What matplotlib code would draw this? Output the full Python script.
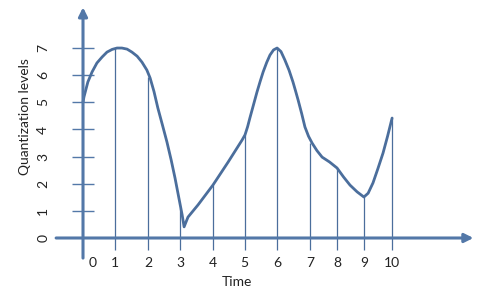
import numpy as np
import matplotlib
matplotlib.use("Agg")
import matplotlib.pyplot as plt

# sample times and where they sit along the time axis
time_labels = ["0", "1", "2", "3", "4", "5", "6", "7", "8", "9", "10"]
time_pos = [0, 0.99, 2.01, 2.99, 4.0, 4.99, 6.0, 7.0, 7.84, 8.67, 9.54]
sample_levels = [5.0, 7.0, 5.95, 1.1, 1.95, 3.8, 7.0, 3.5, 2.55, 1.5, 4.42]

level_labels = ["0", "1", "2", "3", "4", "5", "6", "7"]

# analog signal
curve_t = [0, 0.03, 0.15, 0.28, 0.43, 0.59, 0.74, 0.90, 1.05, 1.20,
           1.36, 1.51, 1.67, 1.82, 1.97, 2.07, 2.19, 2.31, 2.45, 2.59,
           2.72, 2.84, 2.95, 3.06, 3.12, 3.24, 3.55, 4.01, 4.48, 4.91,
           5.0, 5.08, 5.15, 5.26, 5.37, 5.47, 5.56, 5.67, 5.77, 5.88,
           5.99, 6.11, 6.23, 6.36, 6.48, 6.56, 6.64, 6.75, 6.85, 6.96,
           7.07, 7.22, 7.38, 7.61, 7.84, 8.04, 8.24, 8.46, 8.67, 8.80,
           8.95, 9.10, 9.26, 9.40, 9.54]
curve_q = [5.0, 5.2, 5.75, 6.12, 6.45, 6.67, 6.85, 6.95, 7.0, 7.0,
           6.96, 6.85, 6.70, 6.48, 6.19, 5.90, 5.40, 4.79, 4.17, 3.54,
           2.88, 2.21, 1.53, 0.85, 0.41, 0.77, 1.22, 1.95, 2.80, 3.61,
           3.80, 4.10, 4.42, 4.90, 5.38, 5.78, 6.12, 6.47, 6.74, 6.93,
           7.0, 6.87, 6.56, 6.18, 5.75, 5.42, 5.08, 4.58, 4.09, 3.75,
           3.50, 3.22, 2.98, 2.80, 2.58, 2.25, 1.95, 1.70, 1.51, 1.65,
           2.03, 2.55, 3.13, 3.75, 4.42]

axis_col = "#5378a8"
curve_col = "#4b6e9c"
txt_col = "#222222"

plt.rcParams['font.family'] = ['Lato', 'DejaVu Sans']

fig = plt.figure(figsize=(4.86, 2.92), dpi=100)
ax = fig.add_axes([0, 0, 1, 1])
ax.set_xlim(-2.562, 12.438)
ax.set_ylim(-1.99, 8.77)
ax.axis("off")

# axes with arrow heads
ax.annotate("", xy=(12.05, 0), xytext=(-0.83, 0),
            arrowprops=dict(arrowstyle="-|>", color=axis_col, lw=2.2,
                            mutation_scale=13, shrinkA=0, shrinkB=0))
ax.annotate("", xy=(0, 8.5), xytext=(0, -0.74),
            arrowprops=dict(arrowstyle="-|>", color=axis_col, lw=2.2,
                            mutation_scale=13, shrinkA=0, shrinkB=0))

# level ticks crossing the y axis
levels = np.arange(len(level_labels))
ax.hlines(levels[1:], -0.34, 0.34, color=axis_col, lw=1.0)

# sample stems
ax.vlines(time_pos[1:], -0.45, sample_levels[1:], color=curve_col, lw=0.9)

# signal
ax.plot(curve_t, curve_q, color=curve_col, lw=2.0, solid_joinstyle="round",
        solid_capstyle="round")

for lv, lab in zip(levels, level_labels):
    ax.text(-1.23, lv, lab, rotation=90, ha="center", va="center",
            fontsize=10, color=txt_col)

for i, (tp, lab) in enumerate(zip(time_pos, time_labels)):
    x = 0.31 if i == 0 else tp
    ax.text(x, -0.92, lab, ha="center", va="center", fontsize=10, color=txt_col)

ax.text(4.75, -1.62, "Time", ha="center", va="center", fontsize=10, color=txt_col)
ax.text(-1.79, 4.46, "Quantization levels", rotation=90, ha="center",
        va="center", fontsize=10, color=txt_col)

fig.savefig("out.png", dpi=100)
